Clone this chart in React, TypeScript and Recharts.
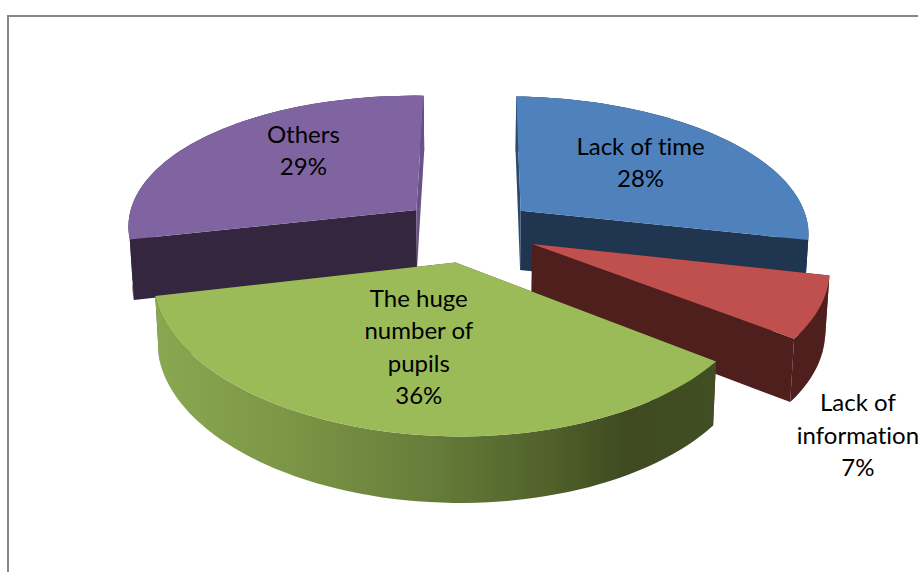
import React from 'react';
import { PieChart, Pie } from 'recharts';

const categories = ['Others', 'Lack of time', 'Lack of information', 'The huge number of pupils'];
const shares = [29, 28, 7, 36];
const labelLines = [['Others'], ['Lack of time'], ['Lack of', 'information'], ['The huge', 'number of', 'pupils']];

const topColors = ['#8064a2', '#4f81bd', '#c0504d', '#9bbb59'];
const rimColors = ['#35263f', '#1f3550', '#4f1f1d', 'url(#greenRim)'];
const startWallColors = ['#35263f', '#2b4a70', '#4f1f1d', '#3f4a21'];
const endWallColors = ['#6a5287', '#1f3550', '#4f1f1d', '#3f4a21'];

// where each label sits along its slice's mid angle, plus a nudge in px
const labelRadius = [0.6, 0.51, 1.2, 0.6];
const labelNudgeX = [13, 14, -23, 2];
const labelNudgeY = [-12, -9, 114, -10];

const data = categories.map((name, i) => ({ name, value: shares[i], fill: topColors[i] }));

// the sequence in the picture starts at 12 o'clock with "Lack of time"
const ROTATION = 0.3;
const START_ANGLE = 90 - ROTATION + (shares[0] / 100) * 360;

const SQUASH = 0.472; // ground plane seen from above
const ROLL = 0.012; // right side of the pie sits a little lower than the left
const PERSPECTIVE_X = 0.13;
const PERSPECTIVE_Y = 0.15;
const PERSPECTIVE_DEPTH = 0.08;
const EXPLODE = 0.235;
const DEPTH = 60;
const BOTTOM_SCALE = 0.988;
const LINE_HEIGHT = 32.5;

const RAD = Math.PI / 180;

// disk coordinates (1 = the pie radius, y towards the viewer) to the screen
const project = (cx: number, cy: number, r: number, x: number, y: number, low = false) => {
  let px = cx + (r * x) / (1 - PERSPECTIVE_X * y);
  let py = cy + (r * SQUASH * y) / (1 - PERSPECTIVE_Y * y) + (px - cx) * ROLL;
  if (low) {
    px = cx + (px - cx) * BOTTOM_SCALE;
    py += DEPTH / (1 - PERSPECTIVE_DEPTH * y);
  }
  return [px, py];
};

const toPath = (pts: number[][]) =>
  pts.map((p, i) => `${i ? 'L' : 'M'}${p[0].toFixed(1)},${p[1].toFixed(1)}`).join(' ') + ' Z';

const Slice3D = (props: any) => {
  const { cx, cy, outerRadius, startAngle, endAngle, fill, index } = props;
  const mid = ((startAngle + endAngle) / 2) * RAD;
  const ox = Math.cos(mid) * EXPLODE;
  const oy = -Math.sin(mid) * EXPLODE;

  const arc: number[][] = [];
  const steps = Math.max(8, Math.ceil(Math.abs(endAngle - startAngle) / 2));
  for (let i = 0; i <= steps; i++) {
    const a = (startAngle + ((endAngle - startAngle) * i) / steps) * RAD;
    arc.push([ox + Math.cos(a), oy - Math.sin(a)]);
  }

  const up = (p: number[]) => project(cx, cy, outerRadius, p[0], p[1]);
  const down = (p: number[]) => project(cx, cy, outerRadius, p[0], p[1], true);
  const apex = [ox, oy];
  const first = arc[0];
  const last = arc[arc.length - 1];

  const startWall = <path d={toPath([up(apex), up(first), down(first), down(apex)])} fill={startWallColors[index]} />;
  const endWall = <path d={toPath([up(apex), up(last), down(last), down(apex)])} fill={endWallColors[index]} />;

  // walls that end at the back of the pie show in front of their rim, the others behind it
  return (
    <g>
      <defs>
        <linearGradient id="greenRim" gradientUnits="userSpaceOnUse" x1="150" y1="0" x2="710" y2="0">
          <stop offset="0%" stopColor="#8aa851" />
          <stop offset="25%" stopColor="#7b9646" />
          <stop offset="50%" stopColor="#677d3a" />
          <stop offset="72%" stopColor="#4f6029" />
          <stop offset="85%" stopColor="#3f4a21" />
          <stop offset="100%" stopColor="#414d23" />
        </linearGradient>
      </defs>
      {first[1] >= 0 && startWall}
      {last[1] >= 0 && endWall}
      <path d={toPath([...arc.map(up), ...arc.slice().reverse().map(down)])} fill={rimColors[index]} />
      {first[1] < 0 && startWall}
      {last[1] < 0 && endWall}
      <path d={toPath([up(apex), ...arc.map(up)])} fill={fill} />
    </g>
  );
};

const SliceLabel = (props: any) => {
  const { cx, cy, outerRadius, midAngle, index, value } = props;
  const a = midAngle * RAD;
  const k = EXPLODE + labelRadius[index];
  const [x, y] = project(cx, cy, outerRadius, Math.cos(a) * k, -Math.sin(a) * k);
  const lines = [...labelLines[index], `${value}%`];
  const left = x + labelNudgeX[index];
  const top = y + labelNudgeY[index] - ((lines.length - 1) * LINE_HEIGHT) / 2;
  return (
    <text
      textAnchor="middle"
      fontFamily="Lato, 'Open Sans', sans-serif"
      fontSize={24}
      fill="#000"
      style={{ fontVariantLigatures: 'none' }}
    >
      {lines.map((line, i) => (
        <tspan key={line} x={left} y={top + i * LINE_HEIGHT} dy="0.35em">
          {line}
        </tspan>
      ))}
    </text>
  );
};

export default function App() {
  return (
    <div style={{ position: 'fixed', left: 0, top: 0, width: 918, height: 572, overflow: 'hidden', background: '#fff' }}>
      <div
        style={{
          position: 'absolute',
          left: 7,
          top: 15,
          width: 1000,
          height: 1000,
          border: '2px solid #878787',
        }}
      />
      <div style={{ position: 'absolute', left: 0, top: 0 }}>
        <PieChart width={918} height={572} margin={{ top: 0, right: 0, bottom: 0, left: 0 }}>
          <Pie
            data={data}
            dataKey="value"
            nameKey="name"
            cx={469}
            cy={230}
            outerRadius={290}
            startAngle={START_ANGLE}
            endAngle={START_ANGLE - 360}
            stroke="none"
            shape={Slice3D}
            label={SliceLabel}
            labelLine={false}
            isAnimationActive={false}
          />
        </PieChart>
      </div>
    </div>
  );
}
